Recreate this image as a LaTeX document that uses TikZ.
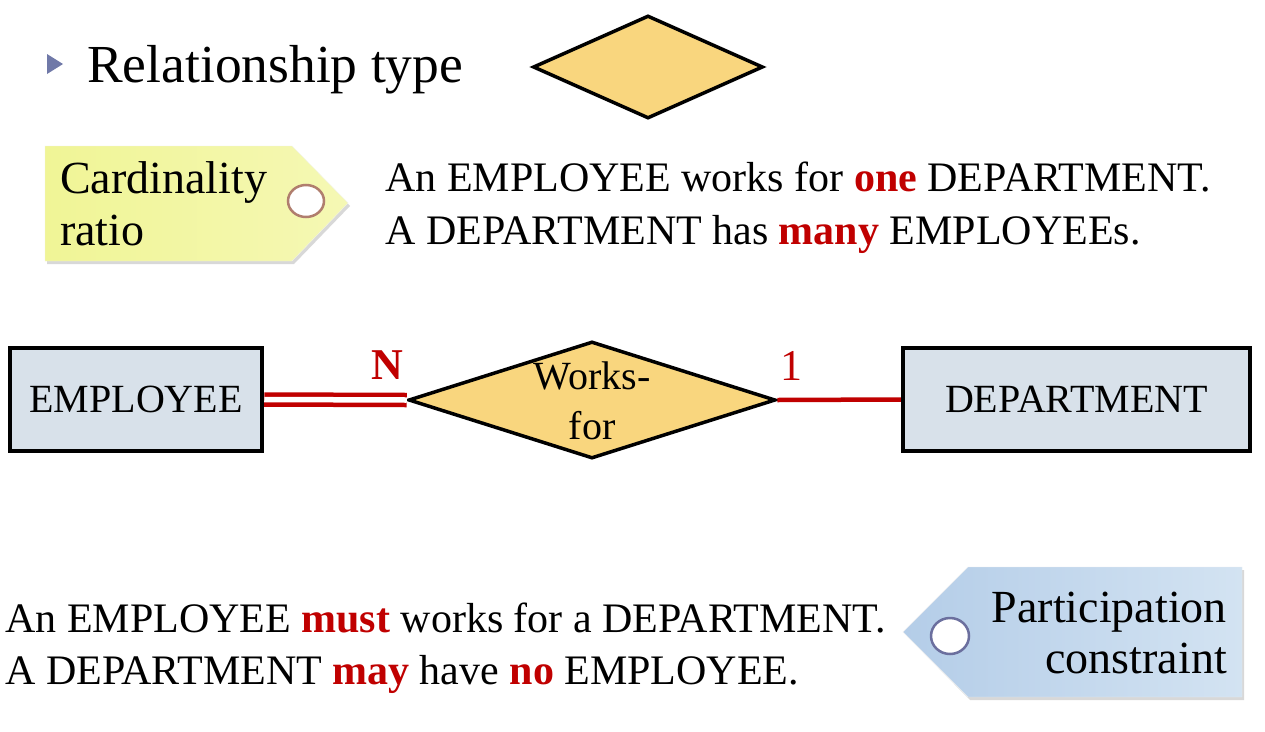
\documentclass[tikz,border=0pt]{standalone}
\usepackage{fontspec}
\setmainfont{Liberation Serif}
\usetikzlibrary{shapes.geometric}
\definecolor{dred}{HTML}{C00000}
\definecolor{diafill}{HTML}{F9D67E}
\definecolor{entfill}{HTML}{D8E1EA}
\definecolor{bullet}{HTML}{7079A8}
\definecolor{ytagA}{HTML}{F0F596}
\definecolor{ytagB}{HTML}{F5F8B4}
\definecolor{btagA}{HTML}{B4CDE8}
\definecolor{btagB}{HTML}{D3E3F2}
\definecolor{holeY}{HTML}{B07E6E}
\definecolor{holeB}{HTML}{6B6F9E}
\tikzset{
  txt/.style={anchor=base west, inner sep=0pt, font=\fontsize{42}{53}\selectfont},
  tagtxt/.style={inner sep=0pt, font=\fontsize{46}{53}\selectfont},
  entity/.style={draw=black, line width=4.5pt, fill=entfill, inner sep=0pt, font=\fontsize{40}{50}\selectfont},
  rel/.style={diamond, draw=black, line width=3.5pt, fill=diafill, inner sep=0pt},
  card/.style={inner sep=0pt, text=dred, font=\fontsize{44}{50}\selectfont},
  redline/.style={draw=dred, line width=4.5pt},
}
\newcommand{\emw}[1]{{\bfseries\color{dred}#1}}
\begin{document}
\begin{tikzpicture}[x=1pt,y=-1pt]
\useasboundingbox[fill=white] (0,0) rectangle (1265,731);
% bullet
\fill[bullet] (47,54) -- (63,64) -- (47,74) -- cycle;
\node[txt, font=\fontsize{53.5}{60}\selectfont] (rt) at (87,82) {Relationship type};
\node[rel, minimum width=230, minimum height=103] (topdia) at (648,67) {};
% cardinality tag
\fill[black!30, opacity=0.5] (47,149) -- (294,149) -- (350,206) -- (294,264) -- (47,264) -- cycle;
\shade[left color=ytagA, right color=ytagB, draw=ytagA!80!black!20] (45,146) -- (292,146) -- (348,203) -- (292,261) -- (45,261) -- cycle;
\draw[holeY, line width=2.5pt, fill=white] (306,201) ellipse (18 and 16);
\node[tagtxt, anchor=base west] (card1) at (60,193) {Cardinality};
\node[tagtxt, anchor=base west] (card2) at (60,245) {ratio};
% cardinality text
\node[txt] (ct1) at (385,191) {An EMPLOYEE works for \emw{one} DEPARTMENT.};
\node[txt] (ct2) at (385,244) {A DEPARTMENT has \emw{many} EMPLOYEEs.};
% ER diagram
\node[entity, minimum width=252, minimum height=103] (emp) at (136,399.5) {EMPLOYEE};
\node[entity, minimum width=347, minimum height=103] (dep) at (1076.5,399.5) {DEPARTMENT};
\node[rel, minimum width=367, minimum height=117] (wf) at (592,400) {};
\node[inner sep=0pt, align=center, font=\fontsize{40}{50}\selectfont] (wft) at (592,401) {Works-\\for};
\draw[redline, double=white, double distance=5.5pt] (emp.east) -- (wf.west);
\draw[redline] (wf.east) -- (dep.west);
\node[card, font=\fontsize{44}{50}\selectfont\bfseries] (n) at (387,365) {N};
\node[card] (one) at (791,366) {1};
% participation text
\node[txt] (pt1) at (5,632) {An EMPLOYEE \emw{must} works for a DEPARTMENT.};
\node[txt] (pt2) at (5,684) {A DEPARTMENT \emw{may} have \emw{no} EMPLOYEE.};
% participation tag
\fill[black!30, opacity=0.5] (907,636) -- (970,570) -- (1244,570) -- (1244,700) -- (970,700) -- cycle;
\shade[left color=btagA, right color=btagB, draw=btagA!80!black!20] (903,632) -- (968,567) -- (1242,567) -- (1242,697) -- (968,697) -- cycle;
\draw[holeB, line width=2.5pt, fill=white] (950,636) ellipse (19 and 18);
\node[tagtxt, anchor=base east] (pc1) at (1227,622) {Participation};
\node[tagtxt, anchor=base east] (pc2) at (1227,673) {constraint};
\end{tikzpicture}
\end{document}
